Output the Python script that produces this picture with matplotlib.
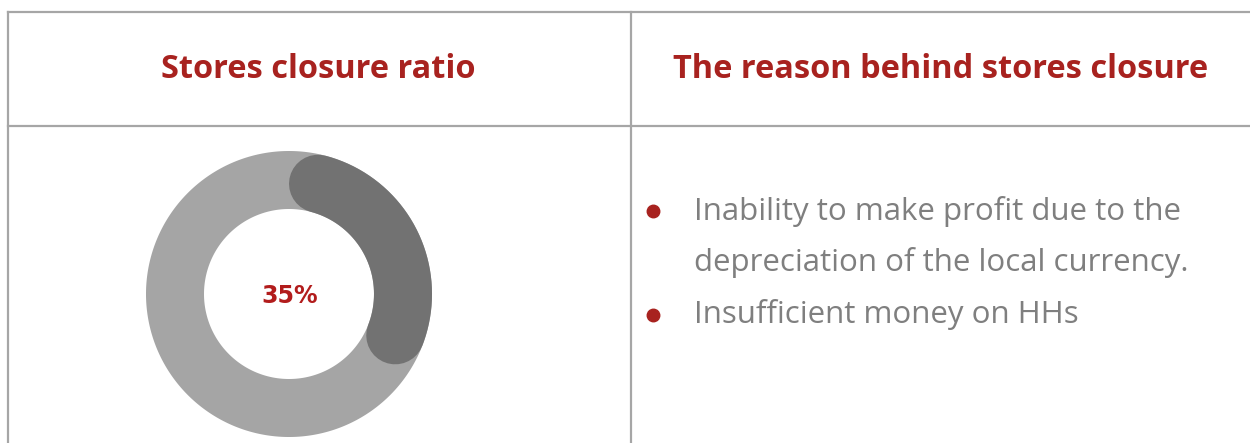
import numpy as np
import matplotlib
matplotlib.use('Agg')
import matplotlib.pyplot as plt

# Data
closure_pct = 35
header_titles = ['Stores closure ratio', 'The reason behind stores closure']
reasons = ['Inability to make profit due to the\ndepreciation of the local currency.',
           'Insufficient money on HHs']

W, H = 1250, 443
fig = plt.figure(figsize=(W / 100, H / 100), dpi=100)
ax = fig.add_axes([0, 0, 1, 1])
ax.set_xlim(0, W)
ax.set_ylim(H, 0)
ax.set_aspect('equal')
ax.axis('off')

# table grid
grid_c = '#a6a6a6'
ax.plot([8, W], [12, 12], color=grid_c, lw=1.6)
ax.plot([8, W], [126, 126], color=grid_c, lw=1.6)
ax.plot([8, 8], [12, H], color=grid_c, lw=1.6)
ax.plot([631, 631], [12, H], color=grid_c, lw=1.6)

# headers
red = '#a8221f'
ax.text(318, 69, header_titles[0], ha='center', va='center', color=red,
        fontsize=23.4, fontweight='bold', family='Open Sans')
ax.text(941, 69, header_titles[1], ha='center', va='center', color=red,
        fontsize=23.4, fontweight='bold', family='Open Sans')

# donut
cx, cy = 289, 294
r_out, r_in = 143, 85
r_mid = (r_out + r_in) / 2
ring_w = r_out - r_in
t = np.linspace(0, 2 * np.pi, 400)
xo, yo = cx + r_out * np.sin(t), cy - r_out * np.cos(t)
xi, yi = cx + r_in * np.sin(t[::-1]), cy - r_in * np.cos(t[::-1])
ax.fill(np.concatenate([xo, xi]), np.concatenate([yo, yi]), color='#a5a5a5', lw=0)

# dark arc with round caps; the whole visible arc covers closure_pct of the ring
cap = np.degrees(np.arcsin((ring_w / 2) / r_mid))
a = np.radians(np.linspace(cap, 360 * closure_pct / 100 - cap, 200))
lw_pt = ring_w * 72 / 100
ax.plot(cx + r_mid * np.sin(a), cy - r_mid * np.cos(a), color='#727272',
        lw=lw_pt, solid_capstyle='round')

ax.text(cx + 1, cy + 2, f'{closure_pct}%', ha='center', va='center', color='#b21c1c',
        fontsize=17, fontweight='bold', family='DejaVu Sans')

# bullet list
gray = '#7f7f7f'
y = 211
for r in reasons:
    ax.plot(653, y, 'o', color=red, ms=9)
    for line in r.split('\n'):
        ax.text(694, y, line, ha='left', va='center', color=gray,
                fontsize=22.5, family='Open Sans')
        y += 52

fig.savefig('out.png', dpi=100)
